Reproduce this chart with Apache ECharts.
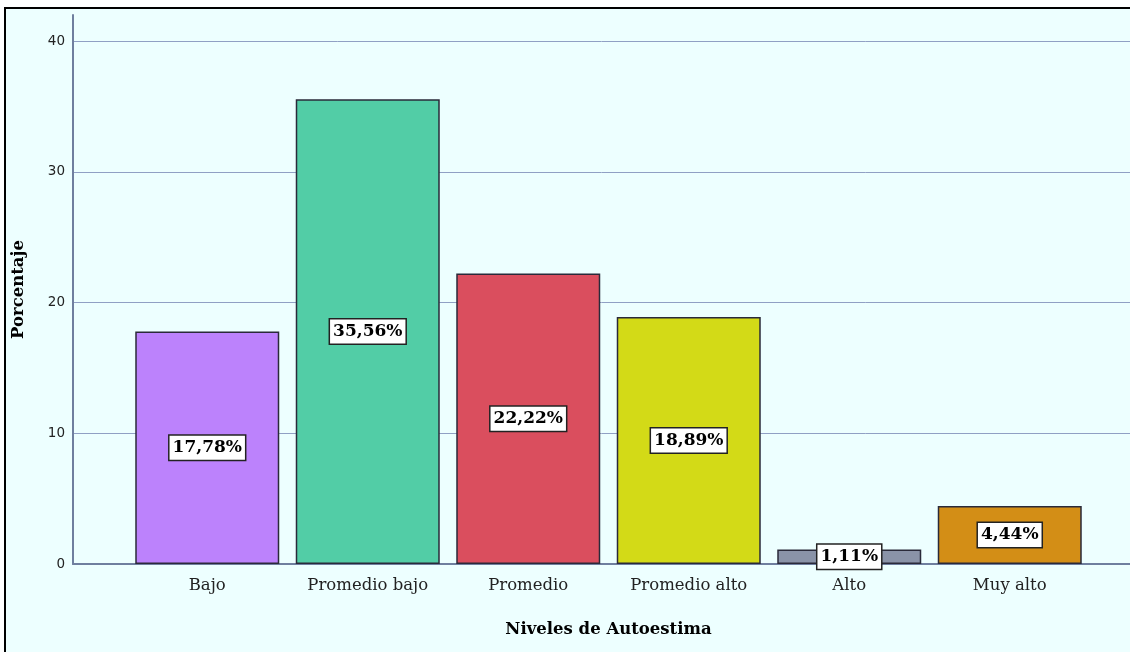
<!DOCTYPE html>
<html><head><meta charset="utf-8">
<style>html,body{margin:0;padding:0;background:#fff}#c{width:1130px;height:652px}</style>
<script src="https://cdn.jsdelivr.net/npm/echarts@6/dist/echarts.min.js"></script>
</head><body><div id="c"></div>
<script>
const categories = ['Bajo','Promedio bajo','Promedio','Promedio alto','Alto','Muy alto'];
const values = [17.78, 35.56, 22.22, 18.89, 1.11, 4.44];
const barColors = ['#BC82FC','#52CDA6','#DA4E5E','#D3DA17','#8A93A8','#D38E16'];
const yTicks = [0,10,20,30,40];

const chart = echarts.init(document.getElementById('c'));
const serif = '"DejaVu Serif", "Liberation Serif", serif';
chart.setOption({
  animation: false,
  backgroundColor: '#fff',
  graphic: [{
    type: 'rect', z: -10, silent: true,
    shape: {x: 5, y: 8, width: 1135, height: 660},
    style: {fill: '#EDFFFF', stroke: '#000', lineWidth: 2}
  }],
  grid: [
    {left: 73, right: 0, top: 15, bottom: 88, containLabel: false, outerBoundsMode: 'none'},
    {left: 127, width: 963, top: 15, bottom: 88, containLabel: false, outerBoundsMode: 'none'}
  ],
  xAxis: [
    {gridIndex: 0, type: 'value', min: 0, max: 1, show: true,
      axisLine: {show: true, lineStyle: {color: '#6F7F9F', width: 2}},
      axisLabel: {show: false}, axisTick: {show: false}, splitLine: {show: false}},
    {gridIndex: 1, type: 'category', data: categories,
      axisLine: {show: false}, axisTick: {show: false},
      axisLabel: {fontFamily: serif, fontSize: 16.5, color: '#222', margin: 13},
      name: 'Niveles de Autoestima', nameLocation: 'middle', nameGap: 57,
      nameTextStyle: {fontFamily: serif, fontSize: 16.5, fontWeight: 'bold', color: '#000'}}
  ],
  yAxis: [
    {gridIndex: 0, type: 'value', min: 0, max: 42, interval: 10,
      axisLine: {show: true, lineStyle: {color: '#6F7F9F', width: 2}},
      axisTick: {show: false},
      axisLabel: {fontFamily: '"DejaVu Sans", sans-serif', fontSize: 13.5, color: '#222', margin: 8,
        formatter: v => yTicks.includes(v) ? String(v) : ''},
      splitLine: {show: true, showMaxLine: false, showMinLine: false, lineStyle: {color: '#90A0C4', width: 1}},
      name: 'Porcentaje', nameLocation: 'middle', nameGap: 46, nameRotate: 90,
      nameTextStyle: {fontFamily: serif, fontSize: 16.5, fontWeight: 'bold', color: '#000'}},
    {gridIndex: 1, type: 'value', min: 0, max: 42, show: false}
  ],
  series: [{
    type: 'bar', xAxisIndex: 1, yAxisIndex: 1, barWidth: 144,
    data: values.map((v, i) => ({value: v, itemStyle: {color: barColors[i]}})),
    itemStyle: {borderColor: '#2a2a3a', borderWidth: 1.5},
    label: {
      show: true, position: 'inside',
      formatter: p => p.value.toFixed(2).replace('.', ',') + '%',
      fontFamily: serif, fontSize: 17, fontWeight: 'bold', color: '#000',
      backgroundColor: '#fff', borderColor: '#222', borderWidth: 1.5,
      padding: [5, 3, 2, 3]
    }
  }]
});
</script></body></html>
